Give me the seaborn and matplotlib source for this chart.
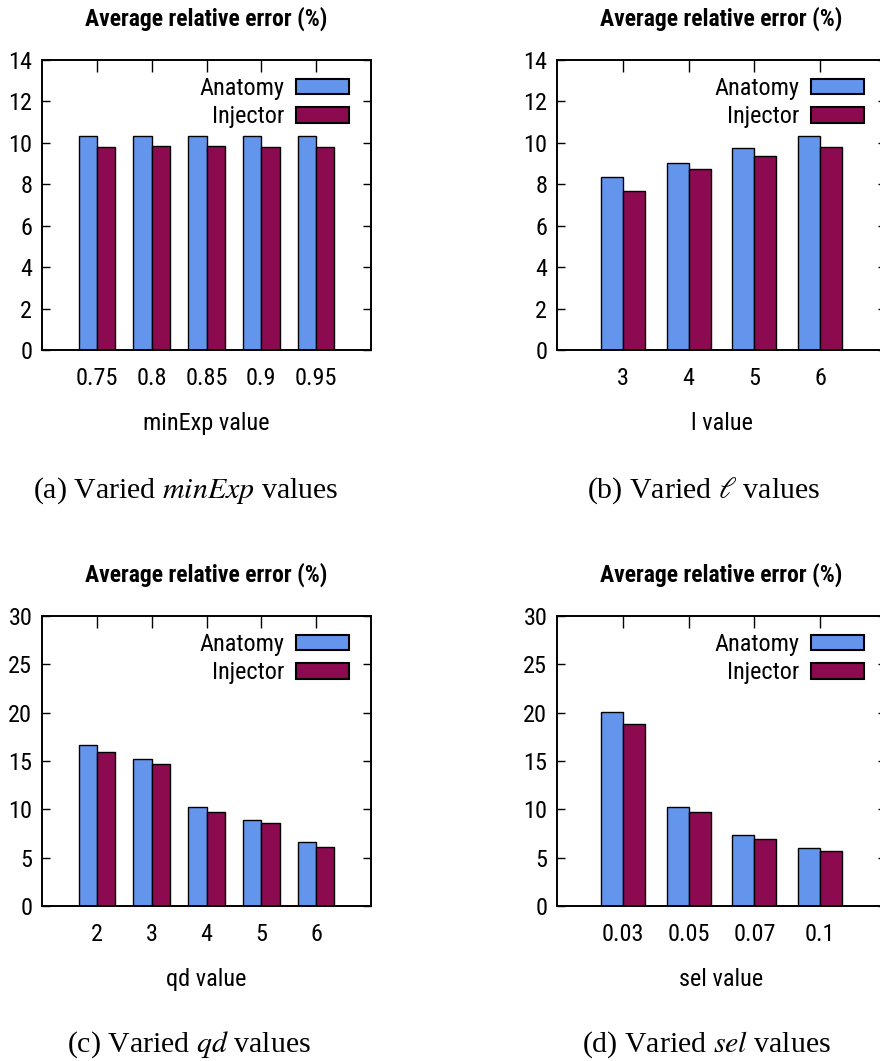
import numpy as np
import pandas as pd
import matplotlib
matplotlib.use("Agg")
import matplotlib.pyplot as plt
import seaborn as sns
from matplotlib import font_manager

# ---- data ----
methods = ["Anatomy", "Injector"]
colors = ["#6495ED", "#8B0A50"]

minexp_labels = ["0.75", "0.8", "0.85", "0.9", "0.95"]
minexp_anatomy = [10.33, 10.32, 10.33, 10.32, 10.32]
minexp_injector = [9.82, 9.83, 9.85, 9.82, 9.82]

ell_labels = ["3", "4", "5", "6"]
ell_anatomy = [8.34, 9.03, 9.74, 10.33]
ell_injector = [7.66, 8.74, 9.37, 9.82]

qd_labels = ["2", "3", "4", "5", "6"]
qd_anatomy = [16.63, 15.22, 10.26, 8.92, 6.64]
qd_injector = [15.94, 14.64, 9.74, 8.61, 6.13]

sel_labels = ["0.03", "0.05", "0.07", "0.1"]
sel_anatomy = [20.04, 10.23, 7.37, 6.02]
sel_injector = [18.87, 9.74, 6.92, 5.68]

sns.set_style("ticks")

# pick a narrow sans for the gnuplot-looking panels
names = {f.name for f in font_manager.fontManager.ttflist}
if "Liberation Sans Narrow" in names:
    plt.rcParams["font.family"] = ["Liberation Sans Narrow", "DejaVu Sans"]
elif "Roboto Condensed" in names:
    plt.rcParams["font.family"] = ["Roboto Condensed", "DejaVu Sans"]
else:
    plt.rcParams["font.family"] = ["DejaVu Sans"]
    plt.rcParams["font.stretch"] = "condensed"
plt.rcParams["mathtext.fontset"] = "stix"
for key in ["text.color", "axes.labelcolor", "xtick.color", "ytick.color",
            "axes.edgecolor"]:
    plt.rcParams[key] = "black"

W, H = 880, 1061
FS = 17.5

fig = plt.figure(figsize=(W / 100, H / 100), dpi=100)


def panel(rect_px, labels, anatomy, injector, xlabel, ymax, ystep):
    x0, y_top, w, h = rect_px
    ax = fig.add_axes([x0 / W, 1 - (y_top + h) / H, w / W, h / H])
    n = len(labels)
    df = pd.DataFrame({
        "value": labels * 2,
        "err": anatomy + injector,
        "method": [methods[0]] * n + [methods[1]] * n,
    })
    sns.barplot(data=df, x="value", y="err", hue="method", order=labels,
                hue_order=methods, palette=colors, saturation=1, width=2 / 3,
                edgecolor="black", linewidth=1.0, errorbar=None, ax=ax)
    ax.set_xlim(-1, n)
    ax.set_ylim(0, ymax)
    ax.set_yticks(np.arange(0, ymax + 0.1, ystep))
    ax.tick_params(axis="both", direction="in", top=True, right=True,
                   width=1.0, labelsize=FS, colors="black")
    ax.tick_params(axis="x", length=8.6, pad=12)
    ax.tick_params(axis="y", length=5.8, pad=7)
    for s in ax.spines.values():
        s.set_linewidth(1.4)
        s.set_color("black")
    ax.set_title("Average relative error (%)", fontweight="bold",
                 fontsize=17, pad=25, color="black")
    ax.set_xlabel(xlabel, fontsize=FS, labelpad=16)
    ax.set_ylabel("")
    leg = ax.legend(loc="upper right",
                    bbox_to_anchor=(1 - 22 / w, 1 - 17 / h),
                    frameon=False, markerfirst=False, fontsize=FS,
                    handlelength=2.2, handleheight=0.62, handletextpad=0.45,
                    labelspacing=0.22, borderpad=0, borderaxespad=0)
    for hd in leg.legend_handles:
        hd.set_edgecolor("black")
        hd.set_linewidth(1.5)
    return ax


panel((42, 60, 329, 290), minexp_labels, minexp_anatomy, minexp_injector,
      "minExp value", 14, 2)
panel((557, 60, 329, 290), ell_labels, ell_anatomy, ell_injector,
      "l value", 14, 2)
panel((42, 616, 329, 290), qd_labels, qd_anatomy, qd_injector,
      "qd value", 30, 5)
panel((557, 616, 329, 290), sel_labels, sel_anatomy, sel_injector,
      "sel value", 30, 5)

cap = dict(fontsize=21.5, family="Liberation Serif", ha="center",
           va="baseline", color="black")
fig.text(186 / W, 1 - 498 / H, r"(a) Varied $minExp$ values", **cap)
fig.text(704 / W, 1 - 498 / H, r"(b) Varied $\ell$ values", **cap)
fig.text(189 / W, 1 - 1052 / H, r"(c) Varied $qd$ values", **cap)
fig.text(707 / W, 1 - 1052 / H, r"(d) Varied $sel$ values", **cap)

fig.savefig("out.png", dpi=100)
